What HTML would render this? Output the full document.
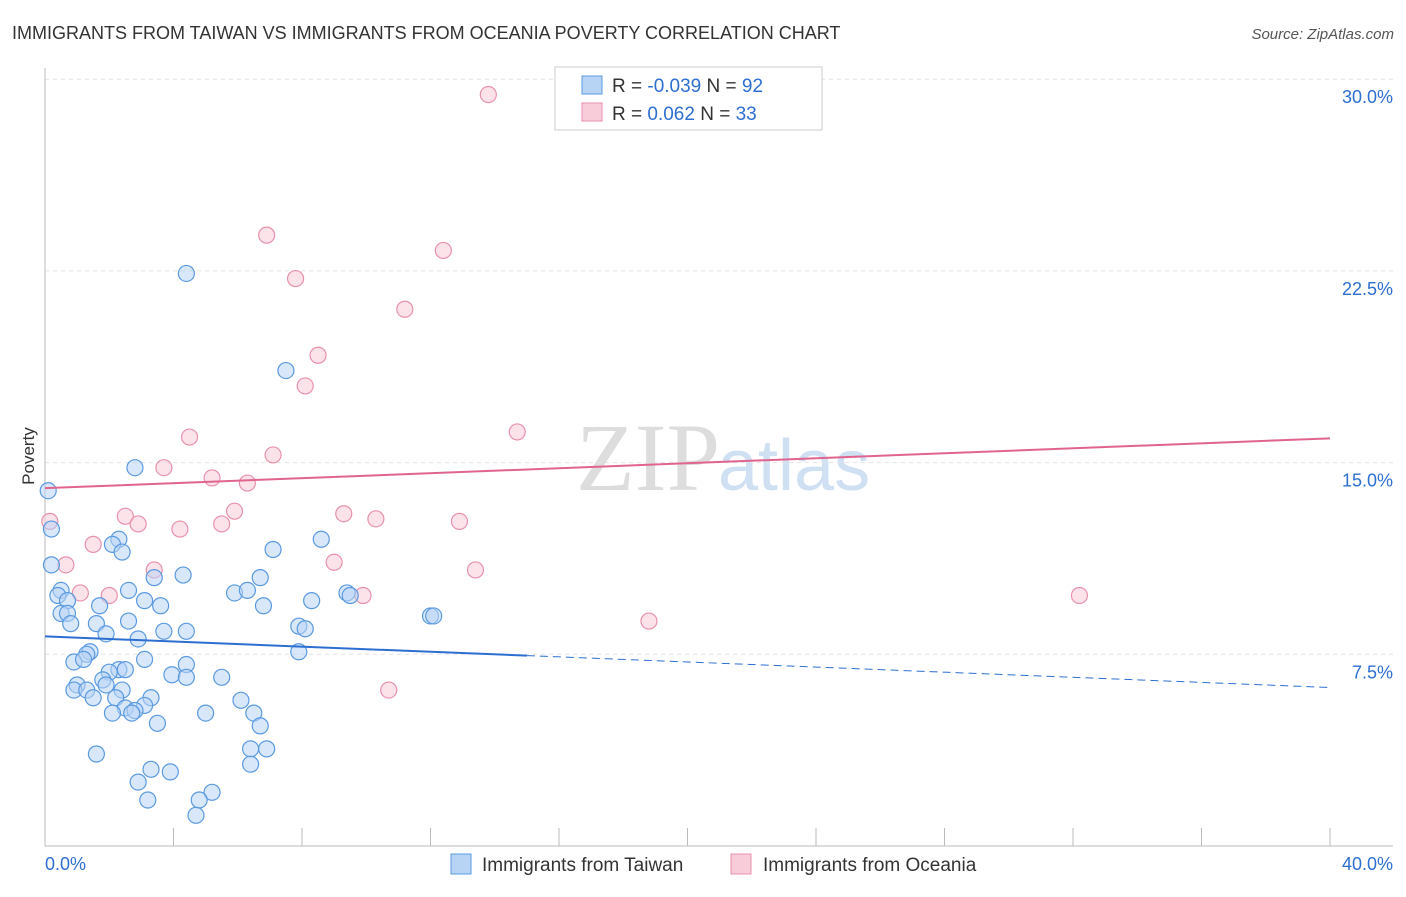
<!DOCTYPE html>
<html><head><meta charset="utf-8"><style>
body{margin:0;background:#fff;font-family:"Liberation Sans",sans-serif}
</style></head><body>
<svg width="1406" height="892" xmlns="http://www.w3.org/2000/svg" font-family="Liberation Sans, sans-serif">
<text x="12" y="39" font-size="18" fill="#333">IMMIGRANTS FROM TAIWAN VS IMMIGRANTS FROM OCEANIA POVERTY CORRELATION CHART</text>
<text x="1394" y="39" font-size="15" fill="#555" font-style="italic" text-anchor="end">Source: ZipAtlas.com</text>
<text x="720" y="490" font-size="96" fill="#ddd" text-anchor="end" font-family="Liberation Serif, serif">ZIP</text>
<text x="718" y="490" font-size="72" fill="#cfe0f3">atlas</text>
<g id="grid"></g><g id="axes"></g><g id="marks"></g>
<text x="34" y="456" font-size="17" fill="#333" text-anchor="middle" transform="rotate(-90 34 456)">Poverty</text>
<g>
<rect x="555" y="67" width="267" height="63" fill="#fff" stroke="#ccc"/>
<rect x="582" y="76" width="20" height="18" fill="#b8d4f5" stroke="#5b9ae0"/>
<rect x="582" y="103" width="20" height="18" fill="#f9ccd9" stroke="#e891ad"/>
<text x="612" y="92" font-size="19" fill="#333">R = <tspan fill="#2d6fd1">-0.039</tspan>   N = <tspan fill="#2d6fd1">92</tspan></text>
<text x="612" y="120" font-size="19" fill="#333">R =  <tspan fill="#2d6fd1">0.062</tspan>   N = <tspan fill="#2d6fd1">33</tspan></text>
</g>
<g>
<rect x="451" y="854" width="20" height="20" fill="#b8d4f5" stroke="#5b9ae0"/>
<text x="482" y="871" font-size="19" fill="#333">Immigrants from Taiwan</text>
<rect x="731" y="854" width="20" height="20" fill="#f9ccd9" stroke="#e891ad"/>
<text x="763" y="871" font-size="19" fill="#333">Immigrants from Oceania</text>
</g>
</svg>
<script>
const xTicks=[0,4,8,12,16,20,24,28,32,36,40];
const yTicks=[7.5,15,22.5,30];
const taiwanX=[4.4,7.5,2.8,0.1,0.2,0.2,2.3,2.1,2.4,8.6,7.1,3.4,4.3,6.7,0.5,0.4,0.7,2.6,5.9,6.3,9.4,9.5,8.3,3.1,3.6,6.8,1.7,0.5,0.7,0.8,1.6,2.6,12.0,12.1,7.9,8.1,4.4,3.7,1.9,2.9,1.4,1.3,0.9,1.2,7.9,3.1,4.4,2.3,2.0,2.5,3.95,4.4,5.5,1.8,1.0,1.9,0.9,1.3,2.4,1.5,2.2,3.3,6.1,3.1,2.5,2.8,2.7,2.1,5.0,6.5,3.5,6.7,6.4,6.9,1.6,6.4,3.3,3.9,2.9,5.2,3.2,4.8,4.7];
const taiwanY=[22.4,18.6,14.8,13.9,12.4,11.0,12.0,11.8,11.5,12.0,11.6,10.5,10.6,10.5,10.0,9.8,9.6,10.0,9.9,10.0,9.9,9.8,9.6,9.6,9.4,9.4,9.4,9.1,9.1,8.7,8.7,8.8,9.0,9.0,8.6,8.5,8.4,8.4,8.3,8.1,7.6,7.5,7.2,7.3,7.6,7.3,7.1,6.9,6.8,6.9,6.7,6.6,6.6,6.5,6.3,6.3,6.1,6.1,6.1,5.8,5.8,5.8,5.7,5.5,5.4,5.3,5.2,5.2,5.2,5.2,4.8,4.7,3.8,3.8,3.6,3.2,3.0,2.9,2.5,2.1,1.8,1.8,1.2];
const oceaniaX=[13.8,6.9,12.4,7.8,11.2,8.5,8.1,14.7,4.5,7.1,3.7,5.2,6.3,5.9,9.3,10.3,12.9,2.5,2.9,4.2,5.5,0.15,1.5,0.65,9.0,13.4,3.4,1.1,2.0,9.9,32.2,18.8,10.7];
const oceaniaY=[29.4,23.9,23.3,22.2,21.0,19.2,18.0,16.2,16.0,15.3,14.8,14.4,14.2,13.1,13.0,12.8,12.7,12.9,12.6,12.4,12.6,12.7,11.8,11.0,11.1,10.8,10.8,9.9,9.8,9.8,9.8,8.8,6.1];
const blueLine=[[0,8.2],[15,7.45],[40,6.2]];
const pinkLine=[[0,14.0],[40,15.95]];
const X=v=>45+v/40*1285, Y=v=>846-v/7.5*191.7;
const NS='http://www.w3.org/2000/svg';
function mk(t,a,p){const e=document.createElementNS(NS,t);for(const k in a)e.setAttribute(k,a[k]);p.appendChild(e);return e;}
const grid=document.getElementById('grid'),axes=document.getElementById('axes'),marks=document.getElementById('marks');
yTicks.forEach(v=>{const l=mk('line',{x1:45,x2:1393,y1:Y(v),y2:Y(v),stroke:'#e4e4e4','stroke-dasharray':'4 4'},grid);


const t=mk('text',{x:1393,y:Y(v)+24,'font-size':18,fill:'#2d6fd1','text-anchor':'end'},axes);t.textContent=v.toFixed(1)+'%';

});
const xl=mk('line',{x1:45,x2:1393,y1:846,y2:846,stroke:'#bbb'},axes);


const yl=mk('line',{x1:45,x2:45,y1:68,y2:846,stroke:'#bbb'},axes);


xTicks.forEach(v=>{const l=mk('line',{x1:X(v),x2:X(v),y1:828,y2:846,stroke:'#bbb'},axes);

});
[[0,'start',45],[40,'end',1393]].forEach(([v,a,x])=>{const t=mk('text',{x:x,y:870,'font-size':18,fill:'#2d6fd1','text-anchor':a},axes);t.textContent=v.toFixed(1)+'%';

});
function dots(xs,ys,f,s,n){xs.forEach((x,i)=>{const c=mk('circle',{cx:X(x),cy:Y(ys[i]),r:8,fill:f,'fill-opacity':0.55,stroke:s,'stroke-width':1.2},marks);

});}
dots(oceaniaX,oceaniaY,'#f9ccd9','#e891ad','oceania-point');
dots(taiwanX,taiwanY,'#b8d4f5','#5b9ae0','taiwan-point');
const b1=mk('line',{x1:X(blueLine[0][0]),y1:Y(blueLine[0][1]),x2:X(blueLine[1][0]),y2:Y(blueLine[1][1]),stroke:'#2d6fd1','stroke-width':2},marks);


const b2=mk('line',{x1:X(blueLine[1][0]),y1:Y(blueLine[1][1]),x2:X(blueLine[2][0]),y2:Y(blueLine[2][1]),stroke:'#2d6fd1','stroke-width':1,'stroke-dasharray':'8 5'},marks);


const p1=mk('line',{x1:X(pinkLine[0][0]),y1:Y(pinkLine[0][1]),x2:X(pinkLine[1][0]),y2:Y(pinkLine[1][1]),stroke:'#e0648e','stroke-width':2},marks);


</script>
</body></html>
